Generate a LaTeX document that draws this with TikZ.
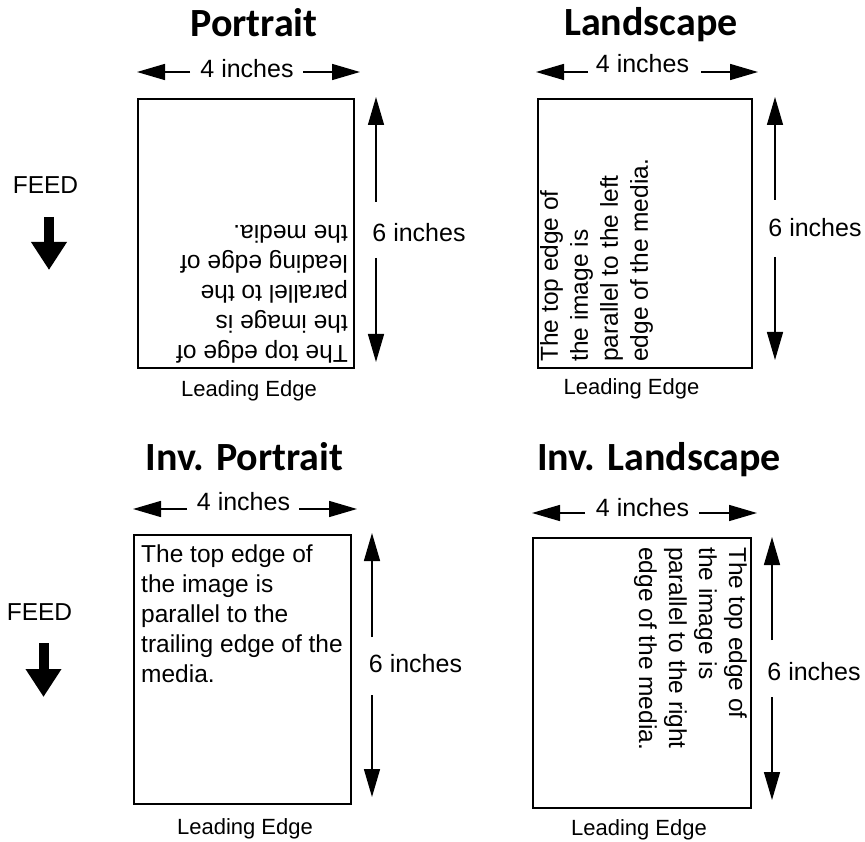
\documentclass[tikz,border=0pt]{standalone}
\usepackage{fontspec}
\setmainfont{Liberation Sans}
\newfontfamily\titlefont{Carlito}
\usetikzlibrary{arrows.meta}
\tikzset{
  ttl/.style={font=\titlefont\bfseries\fontsize{40}{44}\selectfont, anchor=base, inner sep=0},
  dimtxt/.style={font=\fontsize{25}{30}\selectfont, anchor=base, inner sep=0},
  lead/.style={font=\fontsize{22}{26}\selectfont, anchor=base, inner sep=0},
  feedtxt/.style={font=\fontsize{24.5}{28}\selectfont, anchor=base, inner sep=0},
  body/.style={font=\fontsize{24.5}{30}\selectfont, align=left, anchor=north west, inner sep=0},
  paper/.style={draw, line width=1.8pt, inner sep=0, minimum width=#1},
  dimarrow/.style={line width=1.5pt, -{Triangle[length=28pt,width=16pt]}},
  feedarrow/.style={line width=10pt, -{Triangle[length=28pt,width=34pt]}}
}
\begin{document}
\begin{tikzpicture}[x=1pt,y=-1pt]
\useasboundingbox (0,0) rectangle (865,842);

% ===== Portrait =====
\node[ttl] (t1) at (254,37) {Portrait};
\node[dimtxt] (w1) at (247,77.5) {4 inches};
\coordinate (w1l) at (190,72); \coordinate (w1lt) at (137,72);
\coordinate (w1r) at (303,72); \coordinate (w1rt) at (360,72);
\draw[dimarrow] (w1l) -- (w1lt);
\draw[dimarrow] (w1r) -- (w1rt);
\node[paper=216pt, minimum height=269pt] (b1) at (246,233.5) {};
\node[dimtxt] (h1) at (419,242) {6 inches};
\coordinate (h1t) at (376,202); \coordinate (h1tt) at (376,97);
\coordinate (h1b) at (376,258); \coordinate (h1bt) at (376,362);
\draw[dimarrow] (h1t) -- (h1tt);
\draw[dimarrow] (h1b) -- (h1bt);
\node[lead] (l1) at (249,396) {Leading Edge};
\node[feedtxt] (f1) at (45.5,194) {FEED};
\coordinate (fa1) at (49,217); \coordinate (fb1) at (49,270);
\draw[feedarrow] (fa1) -- (fb1);
\node[body, rotate=180] (x1) at (348,363) {The top edge of\\the image is\\parallel to the\\leading edge of\\the media.};

% ===== Landscape =====
\node[ttl] (t2) at (651,36) {Landscape};
\node[dimtxt] (w2) at (642.5,73) {4 inches};
\coordinate (w2l) at (588,72); \coordinate (w2lt) at (536,72);
\coordinate (w2r) at (701,72); \coordinate (w2rt) at (758,72);
\draw[dimarrow] (w2l) -- (w2lt);
\draw[dimarrow] (w2r) -- (w2rt);
\node[paper=214pt, minimum height=269pt] (b2) at (645,233.5) {};
\node[dimtxt] (h2) at (815,237) {6 inches};
\coordinate (h2t) at (775,200); \coordinate (h2tt) at (775,97);
\coordinate (h2b) at (775,257); \coordinate (h2bt) at (775,360);
\draw[dimarrow] (h2t) -- (h2tt);
\draw[dimarrow] (h2b) -- (h2bt);
\node[lead] (l2) at (631.5,395) {Leading Edge};
\node[body, rotate=90] (x2) at (540,362) {The top edge of\\the image is\\parallel to the left\\edge of the media.};

% ===== Inv. Portrait =====
\node[ttl] (t3) at (244.5,470) {Inv. Portrait};
\node[dimtxt] (w3) at (243.5,510) {4 inches};
\coordinate (w3l) at (187,509); \coordinate (w3lt) at (133,509);
\coordinate (w3r) at (299,509); \coordinate (w3rt) at (357,509);
\draw[dimarrow] (w3l) -- (w3lt);
\draw[dimarrow] (w3r) -- (w3rt);
\node[paper=217pt, minimum height=269pt] (b3) at (242.5,669.5) {};
\node[dimtxt] (h3) at (415.5,672) {6 inches};
\coordinate (h3t) at (372,637); \coordinate (h3tt) at (372,533);
\coordinate (h3b) at (372,695); \coordinate (h3bt) at (372,797);
\draw[dimarrow] (h3t) -- (h3tt);
\draw[dimarrow] (h3b) -- (h3bt);
\node[lead] (l3) at (245,834) {Leading Edge};
\node[feedtxt] (f3) at (39.5,620) {FEED};
\coordinate (fa3) at (43.5,643); \coordinate (fb3) at (43.5,697);
\draw[feedarrow] (fa3) -- (fb3);
\node[body] (x3) at (141,545) {The top edge of\\the image is\\parallel to the\\trailing edge of the\\media.};

% ===== Inv. Landscape =====
\node[ttl] (t4) at (659,470) {Inv. Landscape};
\node[dimtxt] (w4) at (642.5,516) {4 inches};
\coordinate (w4l) at (585,513); \coordinate (w4lt) at (532,513);
\coordinate (w4r) at (699,513); \coordinate (w4rt) at (757,513);
\draw[dimarrow] (w4l) -- (w4lt);
\draw[dimarrow] (w4r) -- (w4rt);
\node[paper=218pt, minimum height=270pt] (b4) at (642,673) {};
\node[dimtxt] (h4) at (814,680) {6 inches};
\coordinate (h4t) at (772,640); \coordinate (h4tt) at (772,537);
\coordinate (h4b) at (772,697); \coordinate (h4bt) at (772,800);
\draw[dimarrow] (h4t) -- (h4tt);
\draw[dimarrow] (h4b) -- (h4bt);
\node[lead] (l4) at (639,835) {Leading Edge};
\node[body, rotate=-90] (x4) at (747,547) {The top edge of\\the image is\\parallel to the right\\edge of the media.};
\end{tikzpicture}
\end{document}
